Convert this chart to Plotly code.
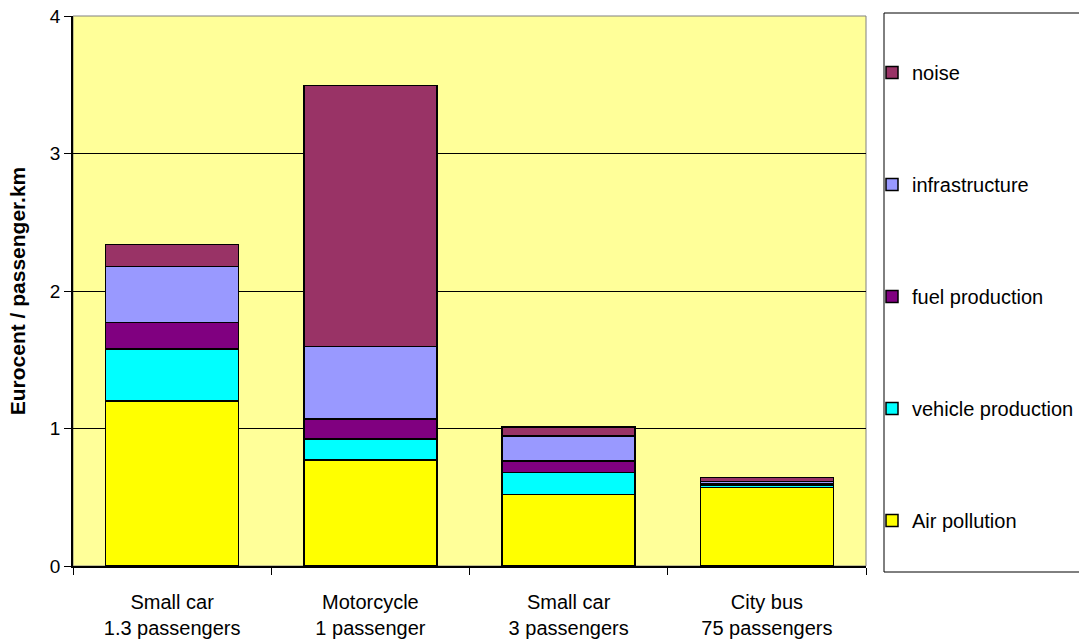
import plotly.graph_objects as go

categories = ["Small car<br>1.3 passengers", "Motorcycle<br>1 passenger",
              "Small car<br>3 passengers", "City bus<br>75 passengers"]
air_pollution = [1.20, 0.77, 0.52, 0.57]
vehicle_production = [0.38, 0.155, 0.16, 0.02]
fuel_production = [0.19, 0.145, 0.085, 0.01]
infrastructure = [0.41, 0.525, 0.18, 0.015]
noise = [0.16, 1.90, 0.065, 0.03]

series = [
    ("Air pollution", air_pollution, "#FFFF00"),
    ("vehicle production", vehicle_production, "#00FFFF"),
    ("fuel production", fuel_production, "#800080"),
    ("infrastructure", infrastructure, "#9999FF"),
    ("noise", noise, "#993366"),
]

fig = go.Figure()
n = len(series)
for i, (name, vals, col) in enumerate(series):
    fig.add_trace(go.Bar(
        x=categories, y=vals, name=name, legendgroup=name, legendrank=n - i,
        marker=dict(color=col, line=dict(color="black", width=1.5)),
    ))

W, H = 1079, 644
L, R, T, B = 73, 1079 - 866, 16, 644 - 566
pw, ph = W - L - R, H - T - B

def px_x(p):
    return (p - L) / pw

def px_y(p):
    return (H - B - p) / ph

FONT = "Liberation Sans, Arial, sans-serif"
fig.update_layout(
    width=W, height=H,
    margin=dict(l=L, r=R, t=T, b=B, pad=0, autoexpand=False),
    barmode="stack", bargap=0.33,
    plot_bgcolor="#FFFF99", paper_bgcolor="white",
    font=dict(family=FONT, size=19, color="black"),
    showlegend=True,
    legend=dict(
        x=px_x(872), y=px_y(53), xanchor="left", yanchor="top",
        traceorder="grouped", tracegroupgap=83,
        bgcolor="rgba(0,0,0,0)", borderwidth=0,
        font=dict(size=20), itemwidth=30,
    ),
    shapes=[
        dict(type="rect", xref="paper", yref="paper",
             x0=px_x(884), x1=px_x(1095), y0=px_y(572), y1=px_y(13),
             line=dict(color="black", width=1), fillcolor="rgba(0,0,0,0)"),
        dict(type="rect", xref="paper", yref="paper", x0=0, x1=1, y0=0, y1=1,
             line=dict(color="#808080", width=1), layer="below"),
    ],
)
fig.update_yaxes(
    range=[0, 4], dtick=1, tick0=0, automargin=False,
    showgrid=True, gridcolor="black", gridwidth=1,
    showline=True, linecolor="black", linewidth=1.5,
    ticks="outside", ticklen=7, tickcolor="black",
    zeroline=False,
    title=dict(text="<b>Eurocent / passenger.km</b>", font=dict(size=21), standoff=19),
    tickfont=dict(size=19),
)
fig.update_xaxes(
    automargin=False,
    showline=True, linecolor="black", linewidth=1.5,
    ticks="outside", ticklen=7, tickcolor="black", tickson="boundaries",
    ticklabelstandoff=17,
    showgrid=False, tickfont=dict(size=20),
)

fig.write_html("out.html", config={"displayModeBar": False},
               post_script="document.body.style.margin='0';")
